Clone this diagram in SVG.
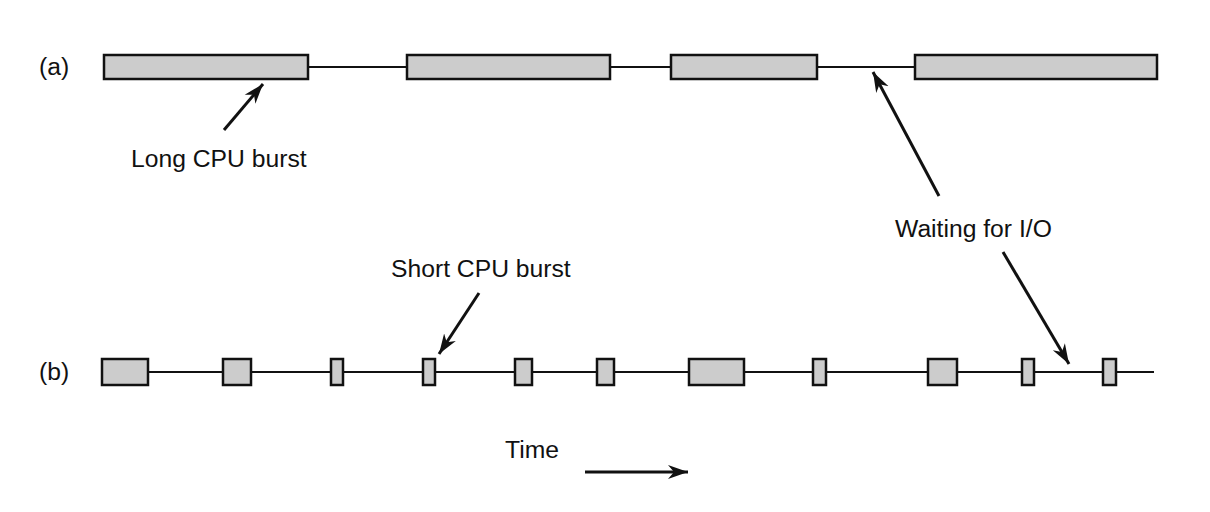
<svg xmlns="http://www.w3.org/2000/svg" width="1210" height="512" viewBox="0 0 1210 512">
<style>
  .lbl { font-family: "Liberation Sans", Arial, sans-serif; font-size: 24.7px; fill: #111; }
  .burst { fill: #cccccc; stroke: #111; stroke-width: 2.5; }
  .track { stroke: #111; stroke-width: 2; fill: none; }
  .ptr { stroke: #111; stroke-width: 3; fill: none; marker-end: url(#ah); }
</style>
<defs>
  <marker id="ah" markerUnits="userSpaceOnUse" markerWidth="22" markerHeight="16" viewBox="0 0 22 16" refX="20" refY="8" orient="auto">
    <path d="M0,1 L20,8 L0,15 L6,8 z" fill="#111"/>
  </marker>
</defs>
<rect width="1210" height="512" fill="#ffffff"/>

<g id="row-a">
  <text class="lbl" x="39" y="75">(a)</text>
  <line class="track" x1="104" y1="67" x2="1157" y2="67"/>
  <rect id="a1" class="burst" x="104" y="55" width="204" height="24"/>
  <rect id="a2" class="burst" x="407" y="55" width="203" height="24"/>
  <rect id="a3" class="burst" x="671" y="55" width="146" height="24"/>
  <rect id="a4" class="burst" x="915" y="55" width="242" height="24"/>
</g>

<g id="row-b">
  <text class="lbl" x="39" y="380">(b)</text>
  <line class="track" x1="102" y1="372" x2="1154" y2="372"/>
  <rect class="burst" x="102" y="359" width="46" height="26"/>
  <rect class="burst" x="223" y="359" width="28" height="26"/>
  <rect class="burst" x="331" y="359" width="12" height="26"/>
  <rect class="burst" x="423" y="359" width="12" height="26"/>
  <rect class="burst" x="515" y="359" width="17" height="26"/>
  <rect class="burst" x="597" y="359" width="17" height="26"/>
  <rect class="burst" x="689" y="359" width="55" height="26"/>
  <rect class="burst" x="813" y="359" width="13" height="26"/>
  <rect class="burst" x="928" y="359" width="29" height="26"/>
  <rect class="burst" x="1022" y="359" width="12" height="26"/>
  <rect class="burst" x="1103" y="359" width="13" height="26"/>
</g>

<g id="label-long">
  <text class="lbl" x="131" y="167">Long CPU burst</text>
</g>
<g id="label-short">
  <text class="lbl" x="391" y="277">Short CPU burst</text>
</g>
<g id="label-wait">
  <text class="lbl" x="895" y="237">Waiting for I/O</text>
</g>
<g id="label-time">
  <text class="lbl" x="505" y="458">Time</text>
</g>

<g id="connectors">
  <line class="ptr" x1="224" y1="130" x2="263" y2="84"/>
  <line class="ptr" x1="479" y1="293" x2="439" y2="354"/>
  <line class="ptr" x1="939" y1="196" x2="873" y2="72"/>
  <line class="ptr" x1="1003" y1="252" x2="1069" y2="364"/>
  <line class="ptr" x1="585" y1="472" x2="688" y2="472"/>
</g>
</svg>
